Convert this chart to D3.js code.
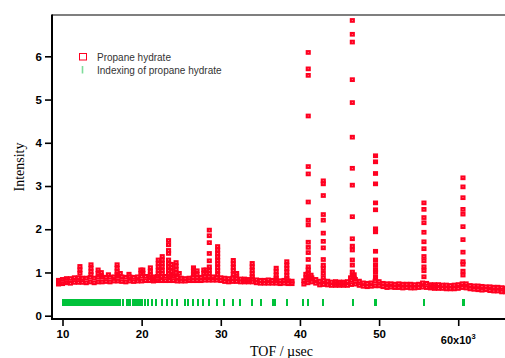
<!DOCTYPE html>
<html><head><meta charset="utf-8">
<script src="https://cdn.jsdelivr.net/npm/d3@7"></script>
<style>body{margin:0;background:#fff}svg{display:block}</style>
</head><body>
<svg id="chart" width="505" height="358"></svg>
<script>
// ---- data ----
// baseline band: TOF grid (x10^3 usec) sampled from 9.5 in steps of 0.5
const gridStart = 9.5, gridStep = 0.5;
const baseLow = [0.73,0.74,0.76,0.75,0.77,0.77,0.77,0.76,0.78,0.76,0.78,0.78,0.79,0.78,0.80,0.80,0.79,0.78,0.80,0.79,
  0.80,0.80,0.81,0.81,0.80,0.81,0.81,0.81,0.81,0.81,0.80,0.80,0.80,0.81,0.81,0.81,0.81,0.82,0.82,0.82,
  0.82,0.81,0.79,0.78,0.79,0.79,0.78,0.78,0.78,0.78,0.76,0.75,0.75,0.75,0.75,0.75,0.74,0.75,0.74,0.74,
  null,null,0.73,0.76,0.78,0.75,0.71,0.72,0.71,0.70,0.70,0.70,0.70,0.70,0.72,0.73,0.70,0.68,0.67,0.68,
  0.69,0.69,0.67,0.65,0.66,0.65,0.65,0.64,0.65,0.64,0.64,0.65,0.66,0.65,0.64,0.63,0.63,0.63,0.62,0.62,
  0.62,0.63,0.65,0.64,0.62,0.61,0.60,0.59,0.60,0.58,0.57,0.57,0.55,0.55];
const baseHigh = [0.82,0.84,0.86,0.86,0.88,0.88,0.87,0.87,0.89,0.87,0.89,0.89,0.89,0.89,0.90,0.91,0.90,0.89,0.90,0.89,
  0.90,0.91,0.91,0.90,0.90,0.91,0.90,0.91,0.90,0.91,0.89,0.87,0.86,0.87,0.88,0.88,0.89,0.90,0.90,0.90,
  0.89,0.88,0.87,0.86,0.87,0.86,0.85,0.85,0.84,0.85,0.83,0.82,0.82,0.83,0.82,0.83,0.81,0.82,0.81,0.80,
  null,null,0.81,0.86,0.88,0.84,0.80,0.81,0.80,0.78,0.79,0.78,0.78,0.79,0.82,0.84,0.80,0.76,0.75,0.76,
  0.80,0.79,0.75,0.74,0.74,0.73,0.74,0.73,0.73,0.73,0.72,0.73,0.76,0.75,0.72,0.72,0.72,0.71,0.71,0.70,
  0.71,0.72,0.74,0.74,0.70,0.69,0.69,0.68,0.67,0.67,0.66,0.66,0.65,0.64];
// peak columns: TOF position and the intensities stacked there
const peakTof = [12.2,13.6,14.5,14.9,15.8,16.9,17.3,18.4,19.9,20.15,21.1,22.1,22.6,23.4,23.75,24.35,24.75,26.55,27.0,27.85,
  28.15,28.55,29.6,31.58,32.0,33.97,37.0,38.34,40.75,41.05,41.4,42.95,46.4,46.62,46.85,49.55,55.67,60.6];
const peakValues = [
  [1.14,1.06,0.98],[1.18,1.10,1.02,0.95],[1.06,0.98],[1.00,0.93],[0.95],[1.18,1.10,1.02,0.95],[0.98],[0.96],
  [1.06,0.98],[1.06,0.98],[1.11,1.03,0.95],[1.29,1.21,1.13,1.05,0.97],[1.37,1.29,1.21,1.13,1.05,0.97],
  [1.74,1.64,1.51,1.44,1.29,1.21,1.13,1.05,0.97],[1.19,1.11,1.03,0.95],[1.23,1.15,1.07,0.99],[0.98],
  [1.11,1.03,0.95],[1.04,0.96],[1.06,0.98],[1.06,0.98],[1.98,1.85,1.69,1.44,1.27,1.13,1.05,0.97],
  [1.60,1.52,1.44,1.36,1.28,1.20,1.12,1.04,0.96],[1.28,1.20,1.12,1.04,0.96],[0.98,0.92],
  [1.21,1.13,1.05,0.97,0.90],[1.10,1.02,0.94,0.87],[1.25,1.17,1.09,1.01,0.93,0.86],[0.96,0.88],
  [6.09,5.71,5.56,4.62,3.45,3.28,2.63,2.21,2.10,1.70,1.58,1.46,1.30,1.13,1.06,0.98,0.90],[0.94,0.86],
  [3.12,3.05,2.78,2.34,2.21,1.91,1.72,1.57,1.30,1.17,1.09,0.98,0.88],[0.88],
  [6.83,6.51,6.33,5.46,4.93,4.13,3.41,3.02,2.29,1.78,1.61,1.52,1.29,1.17,1.01,0.93],[0.95,0.87],
  [3.70,3.56,3.29,3.05,2.61,2.45,2.01,1.94,1.49,1.29,1.18,1.07,1.00,0.89],
  [2.61,2.46,2.27,2.15,1.93,1.71,1.55,1.37,1.27,1.13,1.04,0.90],
  [3.19,2.98,2.73,2.46,2.35,2.06,1.76,1.47,1.25,1.19,1.03,0.94]];
// reflection positions (indexing), drawn at a fixed intensity level
const indexLevel = 0.31;
const indexTof = [10.02,10.16,10.3,10.43,10.57,10.7,10.84,10.97,11.1,11.24,11.37,11.5,11.64,11.77,11.9,12.04,12.17,12.3,
  12.44,12.57,12.7,12.84,12.97,13.1,13.24,13.37,13.5,13.64,13.77,13.9,14.04,14.17,14.3,14.44,14.57,14.7,14.84,14.97,
  15.1,15.24,15.37,15.5,15.64,15.77,15.9,16.1,16.3,16.5,16.72,16.92,17.12,17.32,17.7,18.1,18.3,18.5,18.9,19.1,19.25,
  19.6,19.8,20.0,20.4,20.8,21.25,21.81,22.53,23.24,23.80,24.53,25.48,25.89,26.45,27.08,27.79,28.55,29.48,30.40,
  31.50,32.43,33.94,35.04,36.56,36.91,38.33,40.42,40.98,42.87,46.66,49.52,49.6,55.64,60.64,60.72];
const xTicks = [10,20,30,40,50,60];
const yTicks = [0,1,2,3,4,5,6];
const seriesNames = ["Propane hydrate","Indexing of propane hydrate"];
const RED = "#ff0020", GREEN = "#00c23a";

// ---- drawing ----
const svg = d3.select("#chart");
svg.append("rect").attr("width",505).attr("height",358).attr("fill","#fff");
const x = d3.scaleLinear().domain([8.673, 65.91]).range([52, 505]);
const y = d3.scaleLinear().domain([-0.0763, 6.956]).range([319, 15]);

svg.append("defs").append("clipPath").attr("id","clip")
  .append("rect").attr("x",52).attr("y",15).attr("width",453).attr("height",304);
const plot = svg.append("g").attr("clip-path","url(#clip)");

const points = [];
baseLow.forEach((lo,i)=>{
  if (lo == null) return;
  const t = gridStart + i*gridStep;
  points.push([t, lo]); points.push([t, baseHigh[i]]);
});
peakTof.forEach((t,j)=> peakValues[j].forEach(v=>points.push([t, v])));

plot.selectAll("rect.idx").data(indexTof).join("rect").attr("class","idx")
  .attr("x", d=>x(d)-1).attr("y", y(indexLevel)-3.6).attr("width",2).attr("height",7.3)
  .attr("fill", GREEN).attr("shape-rendering","crispEdges");

plot.selectAll("rect.pt").data(points).join("rect").attr("class","pt")
  .attr("x", d=>x(d[0])-1.5).attr("y", d=>y(d[1])-1.3).attr("width",3).attr("height",2.6)
  .attr("fill","none").attr("stroke",RED).attr("stroke-width",2.1);

// axes
const fontTick = "'Liberation Sans', Arial, sans-serif";
const xAxis = d3.axisBottom(x).tickValues(xTicks).tickSize(7).tickPadding(4)
  .tickFormat(d => d === 60 ? "" : d3.format("d")(d));
const gx = svg.append("g").attr("transform","translate(0,319)").call(xAxis);
const yAxis = d3.axisLeft(y).tickValues(yTicks).tickSize(7).tickPadding(3).tickFormat(d3.format("d"));
const gy = svg.append("g").attr("transform","translate(52,0)").call(yAxis);
[gx, gy].forEach(g=>{
  g.select(".domain").remove();
  g.selectAll(".tick line").attr("stroke","#000").attr("stroke-width",1.6);
  g.selectAll(".tick text").attr("fill","#000").style("font-family",fontTick)
    .style("font-weight","bold").style("font-size","11.5px");
});
// exponent label replaces the last tick label
const expo = svg.append("text").attr("x", x(60)).attr("y", 344).attr("text-anchor","middle")
  .style("font-family",fontTick).style("font-weight","bold").style("font-size","11px").attr("fill","#000");
expo.append("tspan").text("60x10");
expo.append("tspan").attr("dy",-5).style("font-size","7.5px").text("3");

// frame lines
svg.append("line").attr("x1",52).attr("x2",52).attr("y1",14.5).attr("y2",320).attr("stroke","#000").attr("stroke-width",2);
svg.append("line").attr("x1",51).attr("x2",505).attr("y1",319).attr("y2",319).attr("stroke","#000").attr("stroke-width",2);
svg.append("line").attr("x1",52).attr("x2",505).attr("y1",15).attr("y2",15).attr("stroke","#000").attr("stroke-width",1.2);

// axis titles
const serif = "'Liberation Serif', 'Times New Roman', serif";
svg.append("text").attr("x",250).attr("y",356).style("font-family",serif).style("font-size","14px")
  .attr("fill","#000").text("TOF / \u00b5sec");
svg.append("text").attr("transform","translate(24,167) rotate(-90)").attr("text-anchor","middle")
  .style("font-family",serif).style("font-size","14px").attr("fill","#000").text("Intensity");

// legend
const lg = svg.append("g");
lg.append("rect").attr("x",79.5).attr("y",53.5).attr("width",7).attr("height",6.5)
  .attr("fill","none").attr("stroke",RED).attr("stroke-width",1);
lg.append("line").attr("x1",82.5).attr("x2",82.5).attr("y1",66).attr("y2",73.5)
  .attr("stroke","#7edc9a").attr("stroke-width",1.6);
lg.selectAll("text").data(seriesNames).join("text")
  .attr("x",97).attr("y",(d,i)=>60.5 + i*13)
  .style("font-family",fontTick).style("font-size","10px").attr("fill","#333").text(d=>d);
</script>
</body></html>
